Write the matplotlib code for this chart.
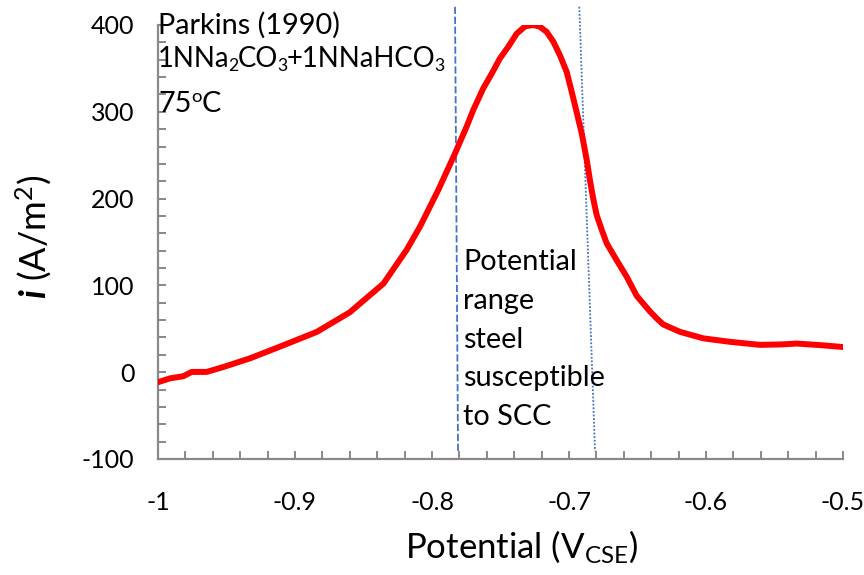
import matplotlib
matplotlib.use("Agg")
import matplotlib.pyplot as plt

# Anodic polarization curve, Parkins (1990)
potential = [-1.000, -0.991, -0.9815, -0.9754, -0.9645, -0.9523, -0.9328, -0.9085,
             -0.884, -0.860, -0.8355, -0.8246, -0.8185, -0.8088, -0.7954, -0.7832,
             -0.7747, -0.7699, -0.7626, -0.7564, -0.7504, -0.7443, -0.7382, -0.732,
             -0.726, -0.7212, -0.7163, -0.7115, -0.7066, -0.7017, -0.698, -0.6932,
             -0.6907, -0.6871, -0.6847, -0.6822, -0.6798, -0.6761, -0.6725, -0.6652,
             -0.6579, -0.6506, -0.6409, -0.636, -0.6312, -0.619, -0.602, -0.5825,
             -0.5606, -0.545, -0.5338, -0.515, -0.500]
current = [-11.5, -7, -4.6, 0.3, 0.3, 6, 16, 31,
           46.5, 69, 102, 127, 141, 167.6, 210, 252,
           283, 302, 327, 344, 361.6, 375, 390, 398.5,
           400, 398, 392, 381, 365, 346, 323, 291.6,
           275, 245, 221, 199, 181, 164, 148.5, 129,
           110, 88, 70, 62, 55, 46.5, 39, 35,
           31.5, 32, 33, 31, 29]

# Boundaries of the SCC-susceptible potential range (top and bottom ends)
range_low_x = [-0.7832, -0.7810]
range_high_x = [-0.6925, -0.6810]
range_y = [421, -91]

x_ticks = [-1.0, -0.9, -0.8, -0.7, -0.6, -0.5]
x_tick_labels = ["-1", "-0.9", "-0.8", "-0.7", "-0.6", "-0.5"]
y_ticks = [-100, 0, 100, 200, 300, 400]
y_tick_labels = ["-100", "0", "100", "200", "300", "400"]

plt.rcParams["font.family"] = ["Lato", "DejaVu Sans"]
plt.rcParams["mathtext.fontset"] = "custom"
plt.rcParams["mathtext.rm"] = "Lato"
plt.rcParams["mathtext.it"] = "Lato:italic"
plt.rcParams["mathtext.bf"] = "Lato:bold"
plt.rcParams["mathtext.bfit"] = "Lato:italic:bold"

W, H = 864, 575
fig = plt.figure(figsize=(W / 100, H / 100), dpi=100)
ax = fig.add_axes([158 / W, 1 - 459 / H, (843 - 158) / W, (459 - 25) / H])

ax.plot(potential, current, color="#ff0000", lw=4.3, solid_capstyle="round",
        solid_joinstyle="round", zorder=3)

blue = "#4472c4"
ax.plot(range_low_x, range_y, color=blue, lw=1.3, ls=(0, (4, 1.5)), clip_on=False, zorder=2)
ax.plot(range_high_x, range_y, color=blue, lw=1.3, ls=(0, (1, 1)), clip_on=False, zorder=2)

ax.set_xlim(-1.0, -0.5)
ax.set_ylim(-100, 400)
ax.set_xticks(x_ticks, x_tick_labels)
ax.set_yticks(y_ticks, y_tick_labels)
ax.set_xticks([-1 + 0.02 * k for k in range(26)], minor=True)
ax.set_yticks([-100 + 20 * k for k in range(26)], minor=True)

gray = "#898989"
for side in ("top", "right"):
    ax.spines[side].set_visible(False)
for side in ("left", "bottom"):
    ax.spines[side].set_color(gray)
    ax.spines[side].set_linewidth(1.6)
ax.tick_params(which="both", direction="in", length=5.5, width=1.4, color=gray,
               labelsize=18, labelcolor="black")
ax.tick_params(axis="x", which="major", pad=23)
ax.tick_params(axis="y", which="major", pad=17)

ax.set_xlabel(r"Potential (V$_{\mathrm{CSE}}$)", fontsize=25, labelpad=10, x=0.531)
ax.set_ylabel(r"$\mathbfit{i}$ (A/m$^{2}$)", fontsize=26, labelpad=20, y=0.512)

renderer = fig.canvas.get_renderer()


def rich_text(x, y, parts, fs=20.8, tighten=0.0):
    """Draw text pieces left to right on one baseline (pixel coords from top-left).
    Each piece is (string, mode) with mode 'n' normal, 'sub' subscript, 'sup' superscript."""
    for s, mode in parts:
        size, dy = fs, 0.0
        if mode == "sub":
            size, dy = fs * 0.64, fs * 100 / 72 * 0.16
        elif mode == "sup":
            size, dy = fs * 0.64, -fs * 100 / 72 * 0.36
        t = fig.text(x / W, 1 - (y + dy) / H, s, va="baseline", ha="left", fontsize=size)
        x += t.get_window_extent(renderer).width - tighten


rich_text(158, 34, [("Parkins (1990)", "n")])
rich_text(158, 67, [("1NNa", "n"), ("2", "sub"), ("CO", "n"), ("3", "sub"),
                    ("+1NNaHCO", "n"), ("3", "sub")], fs=19.8, tighten=1.0)
rich_text(158, 112, [("75", "n"), ("o", "sup"), ("C", "n")])

for i, line in enumerate(["Potential", "range", "steel", "susceptible", "to SCC"]):
    rich_text(463, 270 + 38.75 * i, [(line, "n")])

fig.savefig("out.png", dpi=100)
